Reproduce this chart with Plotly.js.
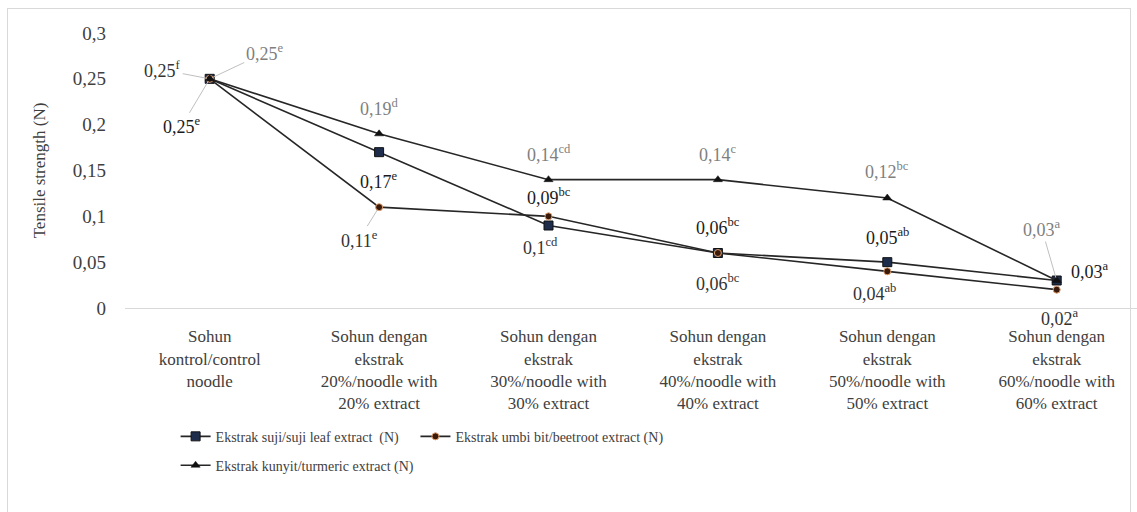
<!DOCTYPE html>
<html>
<head>
<meta charset="utf-8">
<script src="https://cdn.plot.ly/plotly-3.0.1.min.js"></script>
<style>
html,body{margin:0;padding:0;background:#fff;}
#wrap{position:relative;width:1137px;height:512px;}
#chart{width:1137px;height:512px;}
#frame{position:absolute;left:7px;top:8px;width:1122px;height:510px;border:1px solid #d9d9d9;pointer-events:none;}
</style>
</head>
<body>
<div id="wrap"><div id="chart"></div><div id="frame"></div></div>
<script>
// ---- data ----
const categories = [
  "Sohun<br>kontrol/control<br>noodle",
  "Sohun dengan<br>ekstrak<br>20%/noodle with<br>20% extract",
  "Sohun dengan<br>ekstrak<br>30%/noodle with<br>30% extract",
  "Sohun dengan<br>ekstrak<br>40%/noodle with<br>40% extract",
  "Sohun dengan<br>ekstrak<br>50%/noodle with<br>50% extract",
  "Sohun dengan<br>ekstrak<br>60%/noodle with<br>60% extract"
];
const sujiName = "Ekstrak suji/suji leaf extract  (N)";
const beetName = "Ekstrak umbi bit/beetroot extract (N)";
const turmName = "Ekstrak kunyit/turmeric extract (N)";
const sujiValues = [0.25, 0.17, 0.09, 0.06, 0.05, 0.03];
const beetValues = [0.25, 0.11, 0.10, 0.06, 0.04, 0.02];
const turmValues = [0.25, 0.19, 0.14, 0.14, 0.12, 0.03];
const sujiLabels = ["0,25<sup>e</sup>", "0,17<sup>e</sup>", "0,09<sup>bc</sup>", "0,06<sup>bc</sup>", "0,05<sup>ab</sup>", "0,03<sup>a</sup>"];
const beetLabels = ["0,25<sup>f</sup>", "0,11<sup>e</sup>", "0,1<sup>cd</sup>", "0,06<sup>bc</sup>", "0,04<sup>ab</sup>", "0,02<sup>a</sup>"];
const turmLabels = ["0,25<sup>e</sup>", "0,19<sup>d</sup>", "0,14<sup>cd</sup>", "0,14<sup>c</sup>", "0,12<sup>bc</sup>", "0,03<sup>a</sup>"];
const yTickVals = [0, 0.05, 0.1, 0.15, 0.2, 0.25, 0.3];
const yTickText = ["0", "0,05", "0,1", "0,15", "0,2", "0,25", "0,3"];

// ---- label placement (pixel offsets) ----
const sujiOff = [[-28,47,true],[0,28,false],[0,-29,false],[0,-27,false],[0,-26,false],[33,-10,false]];
const beetOff = [[-47,-9,true],[-20,32,true],[-8,30,false],[0,29,false],[-13,21,false],[3,28,false]];
const turmOff = [[55,-26,true],[0,-26,false],[0,-26,false],[0,-26,false],[0,-28,false],[-15,-52,true]];

const FONT = "Liberation Serif";
const xIdx = categories.map((c,i)=>i);

const lineStyle = {color:'#262626', width:1.6};
const traces = [
  {x:xIdx, y:sujiValues, name:sujiName, type:'scatter', mode:'lines+markers',
   line:lineStyle, marker:{symbol:'square', size:9, color:'#1f2d4d', line:{color:'#111', width:1}}, legend:'legend'},
  {x:xIdx, y:beetValues, name:beetName, type:'scatter', mode:'lines+markers',
   line:lineStyle, marker:{symbol:'circle', size:7, color:'#3a1a0a', line:{color:'#e0a070', width:1}}, legend:'legend2'},
  {x:xIdx, y:turmValues, name:turmName, type:'scatter', mode:'lines+markers',
   line:lineStyle, marker:{symbol:'triangle-up', size:8, color:'#111', line:{color:'#111', width:0.5}}, legend:'legend3'}
];

const annotations = [];
function addLabels(vals, labels, offs, color){
  vals.forEach((v,i)=>{
    const o = offs[i];
    const a = {
      x:i, y:v, xref:'x', yref:'y', text: labels[i],
      showarrow:o[2], arrowhead:0, arrowwidth:1, arrowcolor:'#bfbfbf', standoff:3,
      xanchor:'center', yanchor:'middle',
      font:{family:FONT, size:18, color:color}
    };
    if(o[2]){ a.ax = o[0]; a.ay = o[1]; }
    else { a.xshift = o[0]; a.yshift = -o[1]; }
    annotations.push(a);
  });
}
addLabels(sujiValues, sujiLabels, sujiOff, '#1a1a1a');
addLabels(beetValues, beetLabels, beetOff, '#333333');
addLabels(turmValues, turmLabels, turmOff, '#7f7f7f');

const legFont = {family:FONT, size:14, color:'#404040'};
const layout = {
  width:1137, height:512,
  margin:{l:125, r:0, t:33, b:204},
  paper_bgcolor:'#fff', plot_bgcolor:'#fff',
  separators:', ',
  font:{family:FONT, size:16, color:'#404040'},
  showlegend:true,
  xaxis:{
    range:[-0.5, 5.474], tickmode:'array', tickvals:xIdx, ticktext:categories,
    showgrid:false, zeroline:false, showline:true, linecolor:'#d9d9d9', linewidth:1,
    ticks:'', ticklabelstandoff:13, fixedrange:true,
    tickfont:{family:FONT, size:17, color:'#404040'}
  },
  yaxis:{
    range:[0, 0.3], tickmode:'array', tickvals:yTickVals, ticktext:yTickText,
    showgrid:false, zeroline:false, showline:false, ticks:'', ticklabelstandoff:18,
    tickfont:{family:FONT, size:19, color:'#404040'},
    title:{text:'Tensile strength (N)', font:{family:FONT, size:17, color:'#404040'}, standoff:22},
    fixedrange:true
  },
  legend:{orientation:'h', x:0.05, y:-0.41, xanchor:'left', yanchor:'top',
    font:legFont, bgcolor:'rgba(0,0,0,0)', itemwidth:30},
  legend2:{orientation:'h', x:0.287, y:-0.41, xanchor:'left', yanchor:'top',
    font:legFont, bgcolor:'rgba(0,0,0,0)', itemwidth:30},
  legend3:{orientation:'h', x:0.05, y:-0.515, xanchor:'left', yanchor:'top',
    font:legFont, bgcolor:'rgba(0,0,0,0)', itemwidth:30},
  annotations:annotations
};
Plotly.newPlot('chart', traces, layout, {displayModeBar:false, staticPlot:true});
</script>
</body>
</html>
